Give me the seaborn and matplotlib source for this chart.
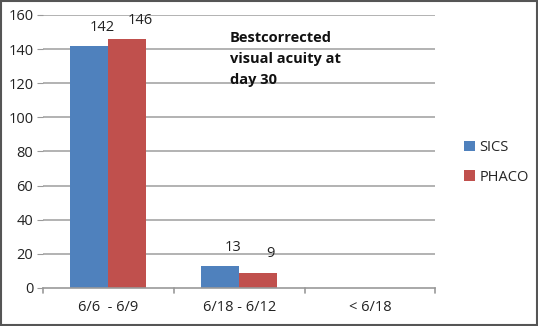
import matplotlib
matplotlib.use("Agg")
import matplotlib.pyplot as plt
import seaborn as sns
import pandas as pd
from matplotlib.patches import Rectangle

categories = ["6/6  - 6/9", "6/18 - 6/12", "< 6/18"]
sics = [142, 13, 0]
phaco = [146, 9, 0]
series = ["SICS", "PHACO"]
yticks = [0, 20, 40, 60, 80, 100, 120, 140, 160]

df = pd.DataFrame({
    "cat": categories * 2,
    "val": sics + phaco,
    "grp": ["SICS"] * 3 + ["PHACO"] * 3,
})

sns.set_style("white")
plt.rcParams["font.family"] = ["Open Sans", "DejaVu Sans"]

fig = plt.figure(figsize=(5.38, 3.26), dpi=100)
ax = fig.add_axes([0.080, 0.117, 0.729, 0.837])
sns.barplot(data=df, x="cat", y="val", hue="grp", hue_order=series,
            order=categories, palette=["#4F81BD", "#C0504D"],
            width=0.58, ax=ax, saturation=1, legend=True, linewidth=0)

ax.set_ylim(0, 160)
ax.set_xlim(-0.5, 2.5)
ax.set_yticks(yticks)
ax.set_yticklabels([str(t) for t in yticks], fontsize=10.5, color="#222222")
ax.tick_params(axis="x", labelsize=10.5, colors="#222222", length=0, pad=9)
ax.tick_params(axis="y", length=4, color="#999999", pad=3, left=True)
ax.set_xlabel("")
ax.set_ylabel("")
for y in yticks[1:]:
    ax.axhline(y, color="#A6A6A6", lw=1.2, zorder=0)
for s in ["top", "right", "left"]:
    ax.spines[s].set_visible(False)
ax.spines["bottom"].set_color("#999999")
ax.spines["bottom"].set_linewidth(1.2)
for xb in [-0.5, 0.5, 1.5, 2.5]:
    ax.plot([xb, xb], [0, -0.02], transform=ax.get_xaxis_transform(),
            color="#999999", lw=1.2, clip_on=False)

for cont in ax.containers:
    for bar in cont:
        h = bar.get_height()
        if h > 0:
            ax.annotate(f"{int(h)}", (bar.get_x() + bar.get_width() / 2, h),
                        xytext=(9, 8), textcoords="offset points",
                        ha="center", va="bottom", fontsize=10.5, color="#222222")

ax.text(0.476, 0.94, "Bestcorrected\nvisual acuity at\nday 30", transform=ax.transAxes,
        fontsize=10.5, fontweight="bold", va="top", ha="left", linespacing=1.6,
        color="#111111")

leg = ax.legend(loc="center left", bbox_to_anchor=(1.04, 0.46), frameon=False,
                fontsize=10.5, handlelength=0.75, handleheight=0.75,
                handletextpad=0.3, labelspacing=1.0)

fig.patches.append(Rectangle((0.002, 0.003), 0.996, 0.994, transform=fig.transFigure,
                             fill=False, edgecolor="#555555", lw=1.5))

fig.savefig("out.png", dpi=100)
